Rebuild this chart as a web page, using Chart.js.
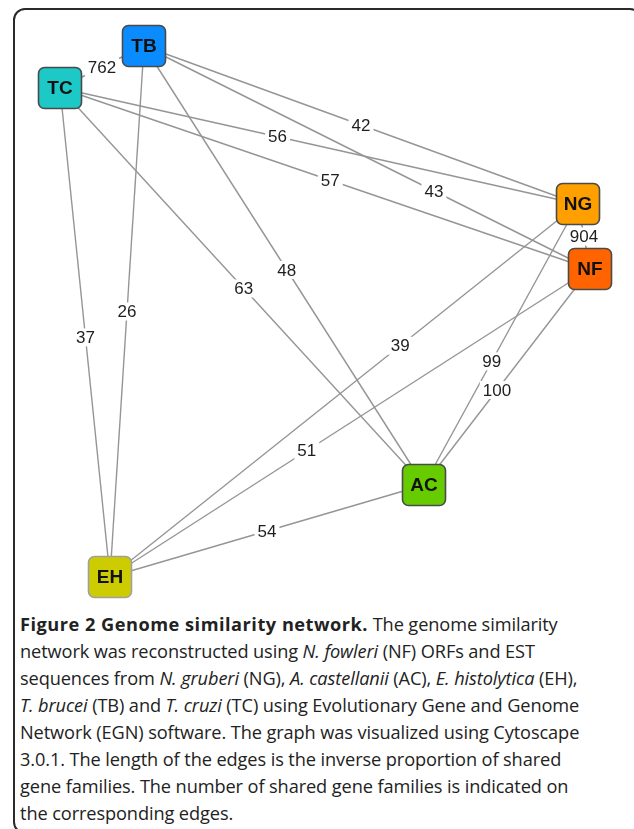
<!DOCTYPE html>
<html lang="en">
<head>
  <meta charset="UTF-8">
  <title>Genome similarity network</title>
  <script src="https://cdn.jsdelivr.net/npm/chart.js"></script>
  <style>
    html, body {
      margin: 0;
      padding: 0;
      background: #fff;
      width: 634px;
      height: 829px;
      overflow: hidden;
    }
    #frame {
      position: absolute;
      left: 13px;
      top: 8px;
      width: 625px;
      height: 822px;
      border: 2px solid #2a2a2a;
      border-radius: 12px;
    }
    #graph {
      position: absolute;
      left: 0;
      top: 0;
    }
    #caption {
      position: absolute;
      left: 20px;
      top: 611px;
      font-family: 'Open Sans', sans-serif;
      font-size: 18.2px;
      line-height: 27px;
      color: #222;
      white-space: nowrap;
      letter-spacing: -0.1px;
    }
    #caption b {
      letter-spacing: 0.5px;
    }
  </style>
</head>
<body>
  <div id="frame"></div>
  <canvas id="graph" width="634" height="610"></canvas>
  <div id="caption">
    <b>Figure 2 Genome similarity network.</b> The genome similarity<br>
    network was reconstructed using <i>N. fowleri</i> (NF) ORFs and EST<br>
    sequences from <i>N. gruberi</i> (NG), <i>A. castellanii</i> (AC), <i>E. histolytica</i> (EH),<br>
    <i>T. brucei</i> (TB) and <i>T. cruzi</i> (TC) using Evolutionary Gene and Genome<br>
    Network (EGN) software. The graph was visualized using Cytoscape<br>
    3.0.1. The length of the edges is the inverse proportion of shared<br>
    gene families. The number of shared gene families is indicated on<br>
    the corresponding edges.
  </div>

  <script>
    // nodes and their layout coordinates (Cytoscape layout)
    const nodes = ['TB', 'TC', 'NG', 'NF', 'AC', 'EH'];
    const nodeX = [144, 60, 578, 590, 424, 110];
    const nodeY = [46, 88, 204, 269, 485, 577];
    const nodeColors = ['#0a8cff', '#1cc9c6', '#ffa000', '#ff6400', '#66cc00', '#cccc00'];

    // edges: shared gene families
    const edgeFrom = ['TC', 'TB', 'TC', 'TC', 'TB', 'NG', 'TB', 'TC', 'NG', 'NG', 'NF', 'NF', 'AC', 'TB', 'TC'];
    const edgeTo   = ['TB', 'NG', 'NG', 'NF', 'NF', 'NF', 'AC', 'AC', 'EH', 'AC', 'AC', 'EH', 'EH', 'EH', 'EH'];
    const sharedFamilies = [762, 42, 56, 57, 43, 904, 48, 63, 39, 99, 100, 51, 54, 26, 37];

    // where along each edge its label sits (0 = from node, 1 = to node)
    const labelAt = [0.5, 0.5, 0.42, 0.51, 0.65, 0.5, 0.51, 0.505, 0.38, 0.56, 0.56, 0.59, 0.5, 0.5, 0.51];

    const pos = name => {
      const i = nodes.indexOf(name);
      return { x: nodeX[i], y: nodeY[i] };
    };

    const edgeSets = edgeFrom.map((f, i) => ({
      type: 'line',
      data: [pos(f), pos(edgeTo[i])],
      borderColor: '#959595',
      borderWidth: 1.4,
      pointRadius: 0,
      fill: false
    }));

    const nodeSet = {
      type: 'scatter',
      data: nodes.map((n, i) => ({ x: nodeX[i], y: nodeY[i] })),
      pointRadius: 0
    };

    const networkPlugin = {
      id: 'network',
      afterDatasetsDraw(chart) {
        const ctx = chart.ctx;
        const xs = chart.scales.x, ys = chart.scales.y;

        // edge labels
        ctx.save();
        ctx.font = '17px "Liberation Sans", Arial, sans-serif';
        ctx.textAlign = 'center';
        ctx.textBaseline = 'middle';
        edgeFrom.forEach((f, i) => {
          const a = pos(f), b = pos(edgeTo[i]);
          const t = labelAt[i];
          const px = xs.getPixelForValue(a.x + (b.x - a.x) * t);
          const py = ys.getPixelForValue(a.y + (b.y - a.y) * t);
          const txt = String(sharedFamilies[i]);
          const w = ctx.measureText(txt).width;
          ctx.fillStyle = '#fff';
          ctx.fillRect(px - w / 2 - 3, py - 9, w + 6, 18);
          ctx.fillStyle = '#1e1e1e';
          ctx.fillText(txt, px, py + 1);
        });
        ctx.restore();

        // node boxes
        const meta = chart.getDatasetMeta(chart.data.datasets.length - 1);
        ctx.save();
        meta.data.forEach((pt, i) => {
          const w = 43, h = 41, r = 6;
          ctx.beginPath();
          ctx.roundRect(pt.x - w / 2, pt.y - h / 2, w, h, r);
          ctx.fillStyle = nodeColors[i];
          ctx.fill();
          ctx.lineWidth = 1.6;
          ctx.strokeStyle = nodes[i] === 'EH' ? '#a0a0a0' : '#4a4a4a';
          ctx.stroke();
          ctx.fillStyle = '#111';
          ctx.font = 'bold 19px "Liberation Sans", Arial, sans-serif';
          ctx.textAlign = 'center';
          ctx.textBaseline = 'middle';
          ctx.fillText(nodes[i], pt.x, pt.y + 1);
        });
        ctx.restore();
      }
    };

    const chart = new Chart(document.getElementById('graph'), {
      data: { datasets: [...edgeSets, nodeSet] },
      options: {
        responsive: false,
        animation: false,
        layout: { padding: 0 },
        plugins: {
          legend: { display: false },
          tooltip: { enabled: false }
        },
        scales: {
          x: { type: 'linear', min: 0, max: 634, display: false },
          y: { type: 'linear', min: 0, max: 610, reverse: true, display: false }
        }
      },
      plugins: [networkPlugin]
    });
  </script>
</body>
</html>
